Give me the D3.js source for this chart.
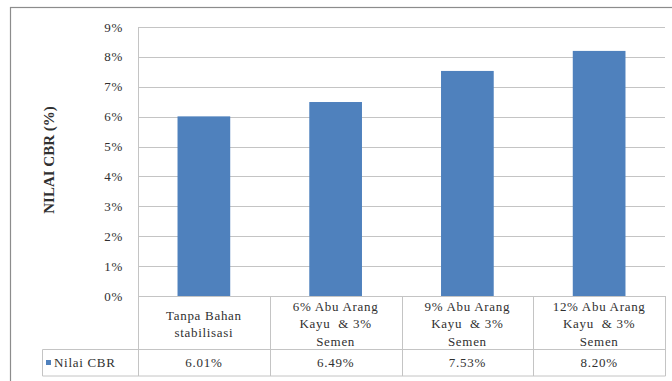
<!DOCTYPE html>
<html>
<head>
<meta charset="utf-8">
<script src="https://cdn.jsdelivr.net/npm/d3@7"></script>
<style>
  html, body { margin: 0; padding: 0; background: #fff; }
  svg { display: block; }
</style>
</head>
<body>
<svg id="chart" width="672" height="381"></svg>
<script>
// ---- data ----
const categories = [
  "Tanpa Bahan\nstabilisasi",
  "6% Abu Arang\nKayu  & 3%\nSemen",
  "9% Abu Arang\nKayu  & 3%\nSemen",
  "12% Abu Arang\nKayu  & 3%\nSemen"
];
const seriesName = "Nilai CBR";
const cbrValues = [0.0601, 0.0649, 0.0753, 0.0820];
const valueLabels = ["6.01%", "6.49%", "7.53%", "8.20%"];
const yTicks = [0, 0.01, 0.02, 0.03, 0.04, 0.05, 0.06, 0.07, 0.08, 0.09];
const yTitle = "NILAI CBR (%)";

// ---- layout ----
const svg = d3.select("#chart");
const plotLeft = 138, plotRight = 665, plotTop = 27, plotBottom = 296;
const row1Bottom = 349.5, row2Bottom = 376;
const tableLeft = 42.5;
const gridColor = "#c4c4c4";
const barColor = "#4f81bd";
const FONT = '"Liberation Serif"';
const TEXTCOL = "#303030";
const FS = 13;

function label(parent, x, y, str, anchor, extra) {
  const g = parent.append("g").attr("transform", `translate(${x},${y})` + (extra || ""));
  return g.append("text")
    .attr("text-anchor", anchor || "middle")
    .attr("dy", "0.35em")
    .style("font-family", FONT).style("font-size", FS + "px")
    .style("letter-spacing", "0.7px")
    .attr("fill", TEXTCOL)
    .text(str);
}

svg.append("rect")
  .attr("x", 10.5).attr("y", 7.5)
  .attr("width", 672).attr("height", 390)
  .attr("fill", "none").attr("stroke", "#8c8c8c").attr("stroke-width", 1.2);

const x = d3.scaleBand().domain(categories).range([plotLeft, plotRight])
  .paddingInner(0.6).paddingOuter(0.3);
const xCell = d3.scaleBand().domain(categories).range([plotLeft, plotRight]).padding(0);
const y = d3.scaleLinear().domain([0, 0.09]).range([plotBottom, plotTop]);

svg.append("g").selectAll("line").data(yTicks).join("line")
  .attr("x1", plotLeft).attr("x2", plotRight)
  .attr("y1", d => Math.round(y(d)) + 0.5).attr("y2", d => Math.round(y(d)) + 0.5)
  .attr("stroke", gridColor).attr("stroke-width", 1);

svg.append("line")
  .attr("x1", plotLeft + 0.5).attr("x2", plotLeft + 0.5)
  .attr("y1", Math.round(y(0.09)) + 0.5).attr("y2", row2Bottom)
  .attr("stroke", gridColor);

const fmt = d3.format(".0%");
const gy = svg.append("g");
yTicks.forEach(t => label(gy, 123, y(t), fmt(t), "end"));

label(svg, 49, 160, yTitle, "middle", " rotate(-90)")
  .style("font-weight", "bold").style("font-size", "15px").style("letter-spacing", "0px");

svg.append("g").selectAll("rect").data(cbrValues).join("rect")
  .attr("x", (d, i) => x(categories[i]))
  .attr("width", x.bandwidth())
  .attr("y", d => y(d))
  .attr("height", d => y(0) - y(d))
  .attr("fill", barColor);

const tbl = svg.append("g").attr("stroke", gridColor).attr("stroke-width", 1);
tbl.append("line").attr("x1", tableLeft).attr("x2", plotRight + 0.5)
  .attr("y1", row1Bottom).attr("y2", row1Bottom);
tbl.append("line").attr("x1", tableLeft).attr("x2", plotRight + 0.5)
  .attr("y1", row2Bottom).attr("y2", row2Bottom);
tbl.append("line").attr("x1", tableLeft).attr("x2", tableLeft)
  .attr("y1", row1Bottom).attr("y2", row2Bottom);
tbl.selectAll("line.v").data(categories).join("line").attr("class", "v")
  .attr("x1", d => Math.round(xCell(d) + xCell.bandwidth()) + 0.5)
  .attr("x2", d => Math.round(xCell(d) + xCell.bandwidth()) + 0.5)
  .attr("y1", plotBottom).attr("y2", row2Bottom);

const lh = 17.5;
const gc = svg.append("g");
categories.forEach(c => {
  const lines = c.split("\n");
  const cx = xCell(c) + xCell.bandwidth() / 2;
  const cy = (plotBottom + row1Bottom) / 2 + 1;
  lines.forEach((ln, k) => {
    label(gc, cx, cy + (k - (lines.length - 1) / 2) * lh, ln, "middle").style("white-space", "pre");
  });
});

const gv = svg.append("g");
valueLabels.forEach((v, i) => label(gv, xCell(categories[i]) + xCell.bandwidth() / 2, (row1Bottom + row2Bottom) / 2, v, "middle"));

svg.append("rect").attr("x", 46).attr("y", 360).attr("width", 5).attr("height", 5).attr("fill", barColor);
label(svg, 54, (row1Bottom + row2Bottom) / 2, seriesName, "start");
</script>
</body>
</html>
